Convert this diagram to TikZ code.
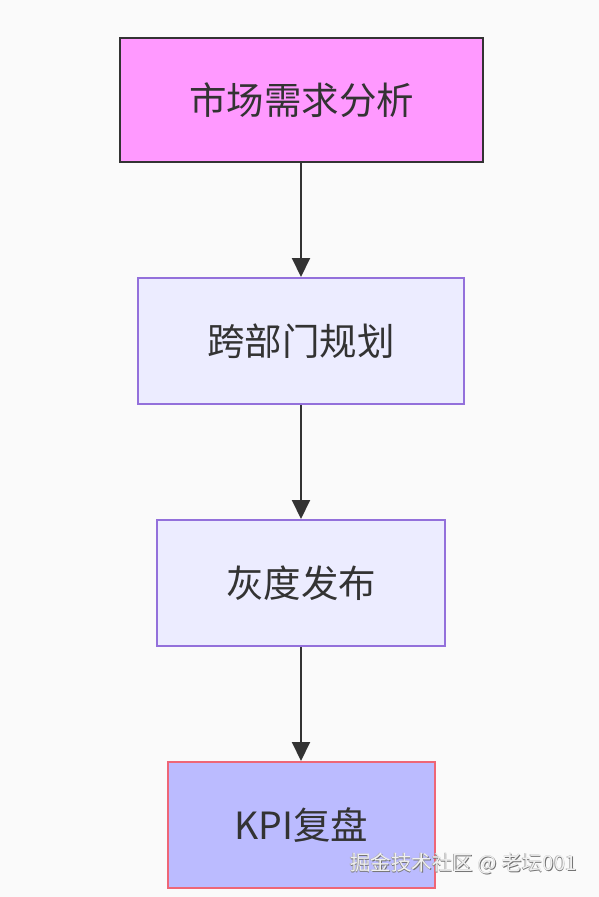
\documentclass[tikz,border=0pt]{standalone}
\usepackage{fontspec}
\newfontfamily\cjk{Noto Sans CJK SC}
\usetikzlibrary{arrows.meta}
\definecolor{bgcol}{HTML}{FAFAFA}
\definecolor{inkcol}{HTML}{333333}
\definecolor{pinkfill}{HTML}{FF99FF}
\definecolor{lilacfill}{HTML}{ECECFF}
\definecolor{lilacline}{HTML}{9370DB}
\definecolor{bluefill}{HTML}{BBBBFF}
\definecolor{redline}{HTML}{EE6677}
\tikzset{
  stepbox/.style={draw=lilacline, fill=lilacfill, line width=2pt, inner sep=0pt,
    text=inkcol, font=\cjk\fontsize{37.5}{37.5}\selectfont},
  flow/.style={draw=inkcol, line width=2pt, -{Triangle[length=19pt,width=18pt]}},
  marktext/.style={font=\cjk\fontsize{20.5}{20.5}\selectfont, anchor=east, inner sep=0pt}
}
\begin{document}
\begin{tikzpicture}[x=1pt, y=-1pt]
\fill[bgcol] (0,0) rectangle (599,897);
\useasboundingbox (0,0) rectangle (599,897);
% boxes
\node[stepbox, draw=inkcol, fill=pinkfill, minimum width=363pt, minimum height=124pt] (market) at (301.5,100) {市场需求分析};
\node[stepbox, minimum width=326pt, minimum height=126pt] (plan) at (301,341) {跨部门规划};
\node[stepbox, minimum width=288pt, minimum height=126pt] (gray) at (301,583) {灰度发布};
\node[stepbox, draw=redline, fill=bluefill, minimum width=267pt, minimum height=126pt] (kpi) at (301.5,825) {KPI复盘};
% arrows
\draw[flow] (market.south -| plan.north) -- (plan.north);
\draw[flow] (plan) -- (gray.north);
\draw[flow] (gray) -- (gray.south |- kpi.north);
% watermark
\node[marktext, text=black!30] (markedge) at (576.4,863.4) {掘金技术社区 @ 老坛001};
\node[marktext, text=black!55] (markshadow) at (577.6,864.6) {掘金技术社区 @ 老坛001};
\node[marktext, text=black!6] (mark) at (577,864) {掘金技术社区 @ 老坛001};
\end{tikzpicture}
\end{document}
